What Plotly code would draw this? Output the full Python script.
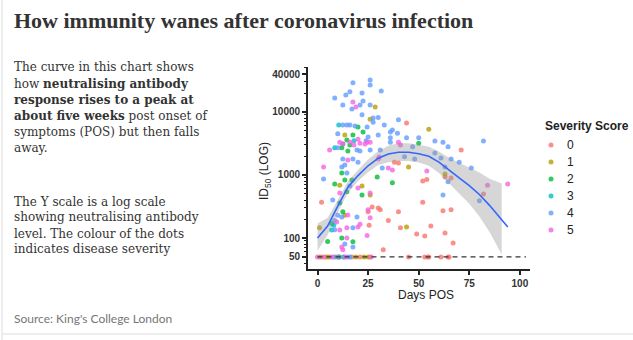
import plotly.graph_objects as go

W, H = 633, 340

# ---- data: days post onset of symptoms (POS) and ID50 titre, by severity score ----
sev0_days = [2, 27, 30, 31, 35, 38, 40, 40, 41, 44, 49, 52, 52, 53, 54, 56, 62, 63, 63, 66, 66, 67, 71, 82,
             32.5, 25, 25.5,
             2, 6, 11, 17, 21, 26, 45, 53, 54.5, 55, 61, 64.5, 65]
sev0_id50 = [370, 310, 300, 280, 190, 1600, 1550, 260, 145, 6700, 116, 800, 370, 108, 850, 155, 270, 120, 930, 900, 280, 83, 2500, 500,
             65, 260, 160,
             50, 50, 50, 50, 50, 50, 50, 50, 50, 50, 50, 50, 50]

sev1_days = [28.5, 26, 13.5, 55, 45, 44, 1, 11, 22, 26, 13.5, 63,
             1, 4, 5, 9, 19, 23, 25]
sev1_id50 = [12000, 7700, 4300, 5300, 1340, 150, 145, 690, 670, 480, 230, 1040,
             50, 50, 50, 50, 50, 50, 50]

sev2_days = [20, 17.5, 22.5, 14.5, 12.5, 16, 12, 15, 8.5, 13.5, 17, 12, 14.5, 11, 22, 12.5, 7, 5, 12, 17.5,
             29.5, 37, 50, 10.5]
sev2_id50 = [5800, 4300, 4800, 3600, 3100, 3000, 2700, 2400, 720, 830, 830, 1080, 540, 360, 480, 260, 170, 88, 100, 87,
             930, 750, 3200, 50]

sev3_days = [7, 8, 18, 10.5, 8.5, 13]
sev3_id50 = [134, 160, 3500, 6200, 2700, 50]

sev4_days = [26, 26, 17.5, 16, 8.5, 14, 22, 22.5, 12.5, 21, 17, 26, 22, 27.5, 31.5,
             12.5, 14.5, 16, 18.5, 24.5, 10, 25, 24, 10, 19.5, 21, 26, 12.5, 17.5, 20,
             3, 12, 13.5, 14.5, 16, 7.5, 10, 12, 19.5, 8.5, 8.5, 17.5, 13.5, 17.5,
             27.5, 30, 33, 40, 37, 36, 30, 39.5, 44, 36, 36, 50, 58, 62, 64.5, 47, 31, 58, 61, 43, 48, 32, 63,
             82, 66, 70, 76, 64.5, 80, 62,
             8, 10, 13, 15, 16]
sev4_id50 = [32200, 26800, 29000, 21000, 16700, 18600, 20000, 15000, 12900, 12900, 11200, 12900, 9000, 6900, 21600,
             6200, 6200, 6200, 6000, 5800, 4500, 4000, 3500, 2700, 2500, 2400, 2500, 1800, 1800, 1600,
             860, 1340, 1440, 1080, 670, 400, 230, 215, 215, 190, 135, 145, 80, 72,
             8000, 8200, 6200, 7500, 5200, 4800, 4300, 4600, 3900, 3900, 3300, 3900, 3450, 3300, 2800, 2800, 2500, 2240, 1860, 1950, 1800, 1290, 1340,
             3450, 1800, 1600, 1290, 780, 390, 480,
             50, 50, 50, 50, 50]

sev5_days = [17.5, 19, 20, 11, 12.5, 23.5, 24.5, 6, 15, 3, 26, 30.5, 30, 35, 37, 54, 84, 94, 11, 14.5, 20, 21, 15, 9.5,
             11, 14.5, 24.5, 12, 12.5, 25, 26, 26, 20, 40, 41, 18, 16, 21,
             0, 3, 7, 14, 26.5]
sev5_id50 = [14400, 12000, 3700, 3300, 3100, 3100, 3300, 2500, 1730, 1340, 3300, 1930, 1800, 1290, 1200, 1160, 690, 720, 520, 145, 150, 165, 232, 180,
             134, 100, 110, 72, 65, 280, 210, 520, 620, 3300, 3000, 3000, 3300, 3200,
             50, 50, 50, 50, 50]

severity_labels = ["0", "1", "2", "3", "4", "5"]
severity_colors = ["#F8766D", "#B79F00", "#00BA38", "#00BFC4", "#619CFF", "#F564E3"]

# smoothed fit and its confidence band
fit_days = [0, 5, 10, 15, 20, 25, 30, 35, 40, 45, 50, 55, 60, 65, 70, 75, 80, 85, 90, 94]
fit_id50 = [100, 155, 320, 640, 980, 1400, 1850, 2150, 2300, 2300, 2180, 1980, 1600, 1180, 900, 680, 490, 330, 210, 150]
band_days = [0, 5, 10, 15, 20, 25, 30, 35, 40, 45, 50, 55, 60, 65, 70, 75, 80, 85, 91]
band_lo = [63, 112, 254, 520, 800, 1110, 1440, 1590, 1670, 1670, 1580, 1400, 1080, 745, 520, 350, 220, 125, 55]
band_hi = [170, 210, 400, 790, 1200, 1760, 2380, 2900, 3180, 3180, 3010, 2800, 2370, 1870, 1560, 1320, 1100, 870, 730]

# detection limit
limit_days = [0, 103]
limit_id50 = [50, 50]

x_ticks = [0, 25, 50, 75, 100]
y_ticks = [50, 100, 1000, 10000, 40000]
y_ticktext = ["50", "100", "1000", "10000", "40000"]

groups = [
    (sev0_days, sev0_id50), (sev1_days, sev1_id50), (sev2_days, sev2_id50),
    (sev3_days, sev3_id50), (sev4_days, sev4_id50), (sev5_days, sev5_id50),
]


def px(x):
    return x / W


def py(y):
    return 1 - y / H


fig = go.Figure()

for label, color, (d, v) in zip(severity_labels, severity_colors, groups):
    fig.add_trace(go.Scatter(
        x=d, y=v, mode="markers", name=label, showlegend=False,
        marker=dict(size=5, color=color, opacity=0.8, line=dict(width=0)),
    ))

fig.add_trace(go.Scatter(
    x=limit_days, y=limit_id50, mode="lines", showlegend=False, hoverinfo="skip",
    line=dict(color="#333333", width=1.3, dash="5px,4px"),
))

fig.add_trace(go.Scatter(
    x=band_days, y=band_lo, mode="lines", showlegend=False, hoverinfo="skip",
    line=dict(width=0, color="rgba(0,0,0,0)"),
))
fig.add_trace(go.Scatter(
    x=band_days, y=band_hi, mode="lines", showlegend=False, hoverinfo="skip",
    line=dict(width=0, color="rgba(0,0,0,0)"),
    fill="tonexty", fillcolor="rgba(153,153,153,0.4)",
))
fig.add_trace(go.Scatter(
    x=fit_days, y=fit_id50, mode="lines", showlegend=False, hoverinfo="skip",
    line=dict(color="#3366FF", width=1.6),
))

# legend key: one marker per severity level on a pixel-space overlay axis
key_top, key_step = 145, 17
fig.add_trace(go.Scatter(
    x=[551] * len(severity_labels),
    y=[key_top + i * key_step for i in range(len(severity_labels))],
    mode="markers", xaxis="x2", yaxis="y2", showlegend=False, hoverinfo="skip",
    marker=dict(size=5, color=severity_colors, opacity=0.8, line=dict(width=0)),
))

axis_color = "#222222"
tick_font = dict(family="Liberation Sans", size=10, color="#333333", weight="bold")

fig.update_layout(
    xaxis=dict(
        domain=[px(308), px(530)], range=[-4.7, 105],
        tickmode="array", tickvals=x_ticks,
        ticks="outside", ticklen=4, tickwidth=1.5, tickcolor=axis_color,
        showline=True, linecolor=axis_color, linewidth=1.8,
        showgrid=False, zeroline=False, tickfont=tick_font,
    ),
    yaxis=dict(
        type="log", domain=[py(269), py(67)], range=[1.508, 4.714],
        tickmode="array", tickvals=y_ticks, ticktext=y_ticktext,
        ticks="outside", ticklen=4, tickwidth=1.5, tickcolor=axis_color,
        minor=dict(ticks="outside", ticklen=2, tickwidth=1, tickcolor=axis_color, dtick="D1", showgrid=False),
        showline=True, linecolor=axis_color, linewidth=1.8,
        showgrid=False, zeroline=False, tickfont=tick_font,
    ),
    xaxis2=dict(domain=[0, 1], range=[0, W], visible=False, fixedrange=True),
    yaxis2=dict(domain=[0, 1], range=[H, 0], visible=False, fixedrange=True, anchor="x2"),
)

ann = []
ann.append(dict(text="<b>How immunity wanes after coronavirus infection</b>",
                x=px(12), y=py(20), xanchor="left", yanchor="middle",
                font=dict(family="Liberation Serif", size=22, color="#333333")))

body_lines = [
    ("The curve in this chart shows", 67.5),
    ("how <b>neutralising antibody</b>", 83.5),
    ("<b>response rises to a peak at</b>", 99.5),
    ("<b>about five weeks</b> post onset of", 115.5),
    ("symptoms (POS) but then falls", 131.5),
    ("away.", 147.5),
    ("The Y scale is a log scale", 201.5),
    ("showing neutralising antibody", 217.5),
    ("level. The colour of the dots", 233.5),
    ("indicates disease severity", 249.5),
]
for t, yy in body_lines:
    ann.append(dict(text=t, x=px(12), y=py(yy), xanchor="left", yanchor="middle",
                    font=dict(family="DejaVu Serif", size=12, color="#333333")))

ann.append(dict(text="Source: King's College London", x=px(12), y=py(318), xanchor="left", yanchor="middle",
                font=dict(family="Lato", size=12, color="#767676")))

ann.append(dict(text="Days POS", x=px(426), y=py(295), xanchor="center", yanchor="middle",
                font=dict(family="Liberation Sans", size=12, color="#222222")))
ann.append(dict(text="ID<sub>50</sub> (LOG)", x=px(265), y=py(171), xanchor="center", yanchor="middle",
                textangle=-90, font=dict(family="Liberation Sans", size=12, color="#222222")))

ann.append(dict(text="<b>Severity Score</b>", x=px(543), y=py(126), xanchor="left", yanchor="middle",
                font=dict(family="Liberation Sans", size=12, color="#222222")))
for i, label in enumerate(severity_labels):
    ann.append(dict(text=label, x=px(565), y=py(key_top + i * key_step), xanchor="left", yanchor="middle",
                    font=dict(family="Liberation Sans", size=12, color="#222222")))

for a in ann:
    a.update(xref="paper", yref="paper", showarrow=False)

shapes = [
    dict(type="line", xref="paper", yref="paper", x0=px(2), x1=px(2), y0=0, y1=1,
         line=dict(color="#dcdcdc", width=1)),
    dict(type="line", xref="paper", yref="paper", x0=px(2), x1=1, y0=py(334), y1=py(334),
         line=dict(color="#dcdcdc", width=1)),
]

fig.update_layout(
    width=W, height=H, margin=dict(l=0, r=0, t=0, b=0),
    paper_bgcolor="white", plot_bgcolor="rgba(0,0,0,0)",
    annotations=ann, shapes=shapes, showlegend=False,
)

fig.write_html("out.html")
